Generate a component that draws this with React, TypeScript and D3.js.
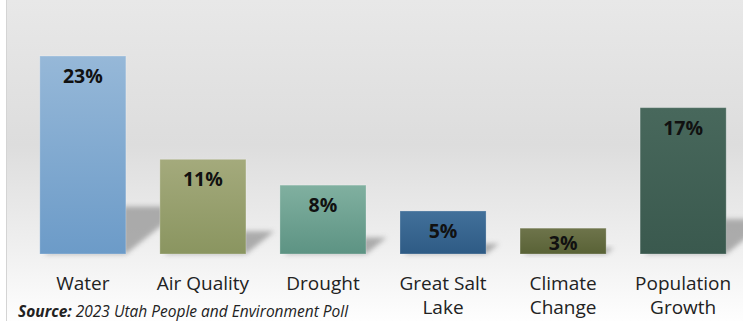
import React from "react";
import * as d3 from "d3";

const categories = ["Water", "Air Quality", "Drought", "Great Salt Lake", "Climate Change", "Population Growth"];
const labelLines = [["Water"], ["Air Quality"], ["Drought"], ["Great Salt", "Lake"], ["Climate", "Change"], ["Population", "Growth"]];
const values = [23, 11, 8, 5, 3, 17];
const topColors = ["#96b8d8", "#a4aa7c", "#80b0a0", "#42709a", "#6e744b", "#48685c"];
const bottomColors = ["#6c9bc8", "#8a9560", "#5d9383", "#2e5b85", "#596236", "#3a594e"];

const W = 743;
const H = 321;

export default function App() {
  const x = d3.scaleBand<string>().domain(categories).range([23, 743]).paddingInner(0.283).paddingOuter(0.14);
  const y = d3.scaleLinear().domain([0, 23]).range([254, 56]);
  const base = y(0);
  const bw = x.bandwidth();

  return (
    <svg width={W} height={H} style={{ position: "fixed", left: 0, top: 0 }}>
      <defs>
        <linearGradient id="bg" x1="0" y1="0" x2="0" y2="1">
          <stop offset="0" stopColor="#e8e8e8" />
          <stop offset="0.45" stopColor="#dddddd" />
          <stop offset="0.78" stopColor="#f0f0f0" />
          <stop offset="1" stopColor="#fefefe" />
        </linearGradient>
        <filter id="blur" x="-50%" y="-50%" width="200%" height="200%">
          <feGaussianBlur stdDeviation="2.5" />
        </filter>
        {categories.map((c, i) => (
          <linearGradient key={c} id={`g${i}`} x1="0" y1="0" x2="0" y2="1">
            <stop offset="0" stopColor={topColors[i]} />
            <stop offset="1" stopColor={bottomColors[i]} />
          </linearGradient>
        ))}
      </defs>
      <rect x={0} y={0} width={W} height={H} fill="#ffffff" />
      <rect x={7} y={0} width={W - 7} height={H} fill="url(#bg)" />
      <line x1={6.5} y1={0} x2={6.5} y2={H} stroke="#d4d4d4" strokeWidth={1} />
      {categories.map((c, i) => {
        const x0 = x(c)!;
        const x1 = x0 + bw;
        const h = base - y(values[i]);
        const sh = h * 0.24;
        const dx = sh * 1.25;
        const pts = [
          [x0 + 4, base],
          [x1, base],
          [x1 + dx, base - sh],
          [x0 + dx, base - sh],
        ]
          .map((p) => p.join(","))
          .join(" ");
        return <polygon key={c} points={pts} fill="#959595" opacity={0.75} filter="url(#blur)" />;
      })}
      {categories.map((c, i) => (
        <rect
          key={c}
          x={x(c)}
          y={y(values[i])}
          width={bw}
          height={base - y(values[i])}
          fill={`url(#g${i})`}
          stroke="#ffffff"
          strokeOpacity={0.25}
          strokeWidth={1}
        />
      ))}
      {categories.map((c, i) => (
        <text
          key={c}
          x={x(c)! + bw / 2}
          y={Math.min(y(values[i]) + 27, base - 4)}
          textAnchor="middle"
          fontFamily="'Open Sans', sans-serif"
          fontWeight={700}
          fontSize={19.5}
          fill="#111111"
        >
          {values[i]}%
        </text>
      ))}
      {categories.map((c, i) => (
        <text
          key={c}
          x={x(c)! + bw / 2}
          y={290}
          textAnchor="middle"
          fontFamily="'Open Sans', sans-serif"
          fontSize={19}
          fill="#222222"
        >
          {labelLines[i].map((l, j) => (
            <tspan key={j} x={x(c)! + bw / 2} dy={j === 0 ? 0 : 24}>
              {l}
            </tspan>
          ))}
        </text>
      ))}
      <text x={18} y={317} fontFamily="'Open Sans', sans-serif" fontSize={15.5} fontStyle="italic" fill="#222222">
        <tspan fontWeight={700}>Source:</tspan>
        <tspan> 2023 Utah People and Environment Poll</tspan>
      </text>
    </svg>
  );
}
